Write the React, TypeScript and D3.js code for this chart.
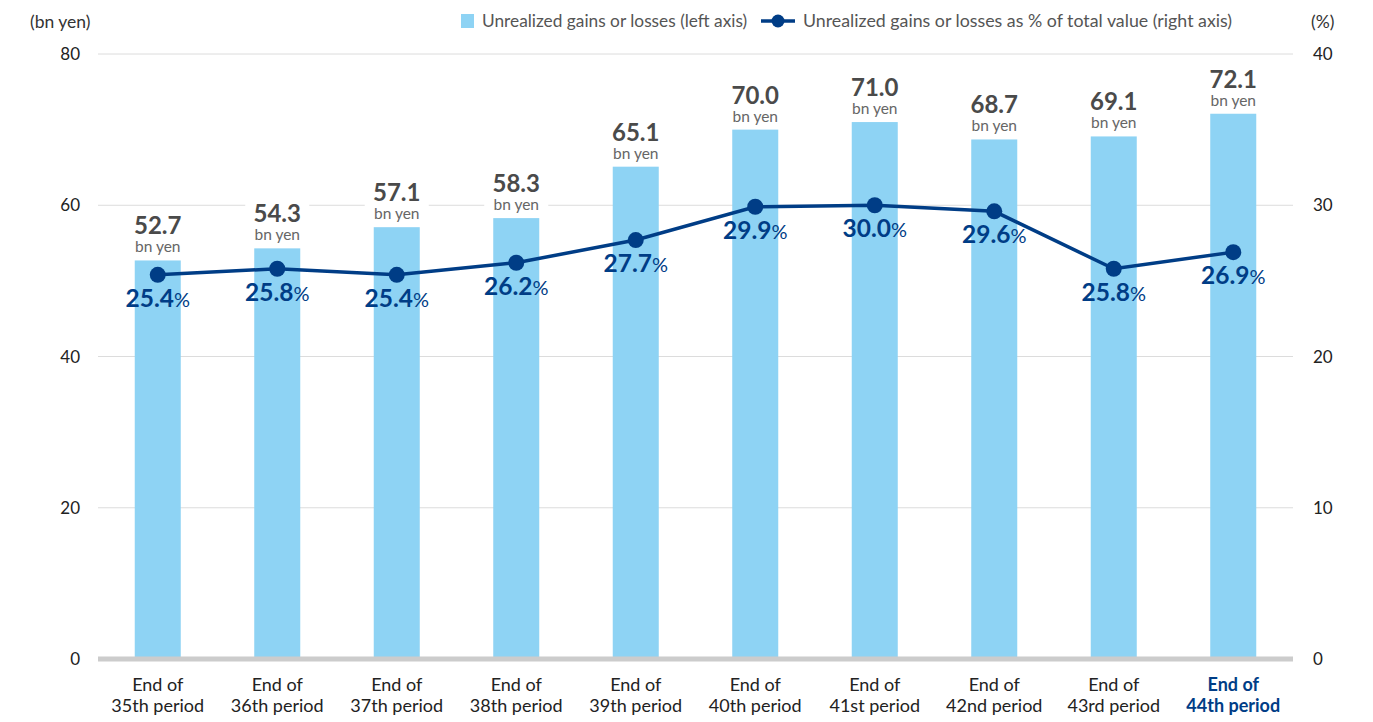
import React from "react";
import * as d3 from "d3";

const categories = ["35th", "36th", "37th", "38th", "39th", "40th", "41st", "42nd", "43rd", "44th"];
const gains = [52.7, 54.3, 57.1, 58.3, 65.1, 70.0, 71.0, 68.7, 69.1, 72.1];
const pct = [25.4, 25.8, 25.4, 26.2, 27.7, 29.9, 30.0, 29.6, 25.8, 26.9];
const leftTicks = [0, 20, 40, 60, 80];
const rightTicks = [0, 10, 20, 30, 40];

const W = 1373, H = 722;
const M = { left: 98, right: 1293, top: 54, bottom: 659 };
const FONT = "Lato, 'Open Sans', sans-serif";
const BAR = "#8ed3f4";
const NAVY = "#003d86";

export default function App() {
  const x = d3.scaleBand<string>().domain(categories).range([M.left, M.right]).paddingInner(0.615).paddingOuter(0.3075);
  const yL = d3.scaleLinear().domain([0, 80]).range([M.bottom, M.top]);
  const yR = d3.scaleLinear().domain([0, 40]).range([M.bottom, M.top]);
  const cx = (c: string) => (x(c) as number) + x.bandwidth() / 2;
  const line = d3.line<number>().x((_, i) => cx(categories[i])).y((d) => yR(d));

  return (
    <svg width={W} height={H} style={{ position: "absolute", left: 0, top: 0, fontFamily: FONT }}>
      <rect width={W} height={H} fill="#fff" />
      {leftTicks.filter((t) => t > 0).map((t) => (
        <line key={t} x1={M.left} x2={M.right} y1={yL(t)} y2={yL(t)} stroke="#dcdcdc" strokeWidth={1} />
      ))}
      {leftTicks.map((t) => (
        <text key={"l" + t} x={80} y={yL(t) + 6} textAnchor="end" fontSize={17} fill="#222">{t}</text>
      ))}
      {rightTicks.map((t) => (
        <text key={"r" + t} x={1313} y={yR(t) + 6} textAnchor="start" fontSize={17} fill="#222">{t}</text>
      ))}
      <text x={30} y={28} fontSize={17.5} fill="#333">(bn yen)</text>
      <text x={1311} y={28} fontSize={17.5} fill="#333">(%)</text>

      {/* legend */}
      <rect x={461} y={14} width={13} height={14} fill={BAR} />
      <text x={482} y={27} fontSize={17.3} fill="#555">Unrealized gains or losses (left axis)</text>
      <line x1={761} x2={795} y1={21} y2={21} stroke={NAVY} strokeWidth={3.5} />
      <circle cx={778} cy={21} r={6.5} fill={NAVY} />
      <text x={803} y={27} fontSize={17.8} fill="#555">Unrealized gains or losses as % of total value (right axis)</text>

      {categories.map((c, i) => (
        <rect key={"b" + c} x={x(c)} y={yL(gains[i])} width={x.bandwidth()} height={M.bottom - yL(gains[i])} fill={BAR} />
      ))}
      <line x1={M.left} x2={M.right} y1={M.bottom} y2={M.bottom} stroke="#cccccc" strokeWidth={5} />

      {categories.map((c, i) => {
        const top = yL(gains[i]);
        return (
          <g key={"v" + c}>
            <rect x={cx(c) - 32} y={top - 46} width={64} height={40} fill="#fff" />
            <text x={cx(c)} y={top - 26} textAnchor="middle" fontSize={24} fontWeight={700} fill="#4a4a4a">{gains[i].toFixed(1)}</text>
            <text x={cx(c)} y={top - 8} textAnchor="middle" fontSize={15.5} fill="#666">bn yen</text>
          </g>
        );
      })}

      <path d={line(pct) || ""} fill="none" stroke={NAVY} strokeWidth={3.5} />
      {categories.map((c, i) => (
        <circle key={"p" + c} cx={cx(c)} cy={yR(pct[i])} r={8} fill={NAVY} />
      ))}
      {categories.map((c, i) => (
        <text key={"pl" + c} x={cx(c)} y={yR(pct[i]) + 32} textAnchor="middle" fill={NAVY}>
          <tspan fontSize={24.5} fontWeight={700}>{pct[i].toFixed(1)}</tspan>
          <tspan fontSize={20}>%</tspan>
        </text>
      ))}

      {categories.map((c, i) => {
        const last = i === categories.length - 1;
        return (
          <text key={"x" + c} x={cx(c)} textAnchor="middle" fontSize={18} fill={last ? NAVY : "#222"} fontWeight={last ? 700 : 400}>
            <tspan x={cx(c)} y={691}>End of</tspan>
            <tspan x={cx(c)} y={712}>{c} period</tspan>
          </text>
        );
      })}
    </svg>
  );
}
